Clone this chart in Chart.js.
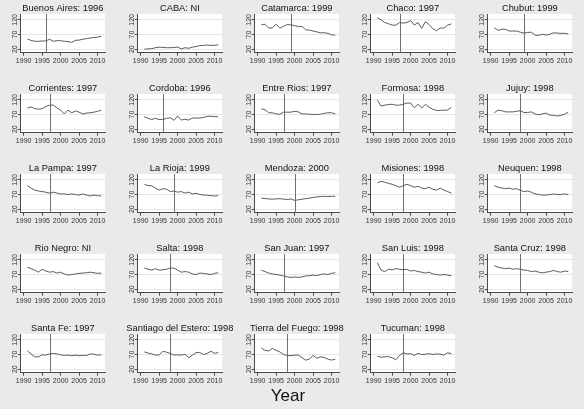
<!DOCTYPE html>
<html lang="en">
<head>
<meta charset="UTF-8">
<title>Provinces: reform year</title>
<script src="https://cdn.jsdelivr.net/npm/chart.js"></script>
<style>
  html, body { margin: 0; padding: 0; background: #eaeaea; }
  body { width: 584px; height: 409px; position: relative; overflow: hidden; font-family: Arial, "Liberation Sans", sans-serif; }
  .panel { position: absolute; }
  .xtitle { position: absolute; left: 0; width: 576px; top: 386px; text-align: center; font-size: 17px; color: #111; }
</style>
</head>
<body>
<div id="grid"></div>
<div class="xtitle">Year</div>
<script>
// years and axis ticks
const years = [1991, 1992, 1993, 1994, 1995, 1996, 1997, 1998, 1999, 2000, 2001,
               2002, 2003, 2004, 2005, 2006, 2007, 2008, 2009, 2010, 2011];
const xTicks = [1990, 1995, 2000, 2005, 2010];
const yTicks = [20, 70, 120];

const provinces = ['Buenos Aires', 'CABA', 'Catamarca', 'Chaco', 'Chubut',
  'Corrientes', 'Cordoba', 'Entre Rios', 'Formosa', 'Jujuy',
  'La Pampa', 'La Rioja', 'Mendoza', 'Misiones', 'Neuquen',
  'Rio Negro', 'Salta', 'San Juan', 'San Luis', 'Santa Cruz',
  'Santa Fe', 'Santiago del Estero', 'Tierra del Fuego', 'Tucuman'];
// null = NI
const reformYears = [1996, null, 1999, 1997, 1999,
  1997, 1996, 1997, 1998, 1998,
  1997, 1999, 2000, 1998, 1998,
  null, 1998, 1997, 1998, 1998,
  1997, 1998, 1998, 1998];

// series, one per province
const buenosAires = [55, 50, 47, 47, 48, 48, 54, 47, 49, 49, 47, 46, 43, 50, 51, 54, 56, 58, 60, 61, 64];
const caba        = [20, 21, 22, 25, 27, 26, 25, 25, 26, 27, 21, 25, 23, 27, 29, 32, 33, 34, 33, 33, 35];
const catamarca   = [104, 105, 92, 93, 105, 92, 98, 104, 103, 100, 97, 98, 86, 85, 82, 79, 76, 76, 74, 69, 68];
const chaco       = [128, 120, 111, 107, 102, 102, 111, 109, 111, 118, 102, 111, 91, 114, 104, 90, 83, 92, 92, 102, 106];
const chubut      = [93, 84, 88, 88, 82, 82, 82, 78, 75, 77, 78, 68, 67, 71, 68, 71, 76, 75, 74, 74, 72];
const corrientes  = [92, 96, 90, 88, 90, 97, 102, 102, 93, 85, 72, 85, 76, 82, 78, 72, 75, 76, 78, 81, 85];
const cordoba     = [62, 57, 53, 57, 53, 53, 57, 59, 50, 65, 51, 54, 51, 58, 58, 58, 60, 64, 64, 63, 62];
const entreRios   = [90, 86, 76, 76, 72, 71, 78, 78, 78, 81, 79, 72, 72, 71, 70, 70, 71, 74, 76, 76, 72];
const formosa     = [119, 99, 102, 104, 105, 102, 102, 105, 109, 109, 93, 105, 92, 105, 95, 88, 84, 84, 85, 85, 95];
const jujuy       = [76, 85, 83, 79, 79, 79, 81, 83, 77, 77, 79, 72, 69, 72, 75, 68, 67, 65, 67, 71, 78];
const laPampa     = [100, 92, 85, 82, 80, 78, 75, 78, 75, 72, 72, 70, 72, 70, 68, 72, 68, 65, 68, 66, 65];
const laRioja     = [105, 100, 100, 92, 85, 90, 88, 80, 82, 78, 80, 75, 78, 72, 74, 70, 68, 68, 66, 65, 66];
const mendoza     = [58, 56, 55, 54, 55, 56, 54, 53, 55, 50, 52, 54, 56, 58, 60, 62, 63, 64, 63, 64, 64];
const misiones    = [110, 115, 112, 108, 105, 100, 95, 100, 105, 100, 95, 98, 92, 90, 95, 88, 85, 92, 85, 80, 75];
const neuquen     = [100, 95, 92, 90, 92, 88, 90, 85, 80, 82, 78, 72, 70, 68, 68, 70, 72, 70, 70, 72, 70];
const rioNegro    = [95, 90, 85, 78, 88, 82, 78, 80, 75, 78, 72, 68, 70, 72, 74, 75, 76, 78, 76, 74, 75];
const salta       = [92, 88, 85, 90, 85, 86, 88, 92, 92, 85, 78, 80, 78, 72, 70, 75, 74, 72, 70, 74, 76];
const sanJuan     = [85, 80, 75, 72, 70, 68, 65, 62, 60, 62, 60, 62, 65, 66, 68, 66, 70, 72, 70, 74, 76];
const sanLuis     = [110, 85, 80, 88, 86, 90, 88, 86, 88, 82, 84, 80, 78, 75, 78, 72, 70, 68, 70, 68, 66];
const santaCruz   = [100, 95, 92, 90, 92, 88, 90, 88, 85, 84, 80, 82, 78, 76, 78, 80, 84, 80, 78, 82, 80];
const santaFe     = [83, 72, 62, 62, 69, 68, 72, 74, 72, 69, 67, 68, 66, 68, 66, 67, 67, 72, 71, 68, 69];
const santiago    = [79, 75, 72, 68, 68, 81, 78, 74, 68, 69, 68, 71, 59, 68, 77, 77, 70, 74, 81, 74, 77];
const tierraFuego = [92, 84, 82, 91, 84, 79, 70, 67, 66, 68, 68, 59, 51, 54, 67, 57, 62, 60, 54, 51, 54];
const tucuman     = [64, 61, 62, 63, 59, 52, 67, 76, 72, 73, 67, 74, 70, 71, 73, 70, 72, 71, 68, 76, 73];

const seriesList = [buenosAires, caba, catamarca, chaco, chubut,
  corrientes, cordoba, entreRios, formosa, jujuy,
  laPampa, laRioja, mendoza, misiones, neuquen,
  rioNegro, salta, sanJuan, sanLuis, santaCruz,
  santaFe, santiago, tierraFuego, tucuman];

const FONT = 'Arial, "Liberation Sans", sans-serif';
const AXIS = '#4a4a4a';

// white plot region, reform line, title and rotated y labels
const panelDecor = {
  id: 'panelDecor',
  beforeDraw(chart) {
    const a = chart.chartArea, ctx = chart.ctx;
    ctx.save();
    ctx.fillStyle = '#ffffff';
    ctx.fillRect(a.left, a.top, a.right - a.left, a.bottom - a.top);
    ctx.restore();
  },
  beforeDatasetsDraw(chart, args, opts) {
    if (opts.reform == null) return;
    const a = chart.chartArea, ctx = chart.ctx;
    const x = Math.round(chart.scales.x.getPixelForValue(opts.reform)) + 0.5;
    ctx.save();
    ctx.strokeStyle = '#707070';
    ctx.lineWidth = 1;
    ctx.beginPath();
    ctx.moveTo(x, a.top);
    ctx.lineTo(x, a.bottom);
    ctx.stroke();
    ctx.restore();
  },
  afterDraw(chart, args, opts) {
    const a = chart.chartArea, ctx = chart.ctx;
    ctx.save();
    ctx.fillStyle = '#111';
    ctx.font = '9.3px ' + FONT;
    ctx.textAlign = 'center';
    ctx.textBaseline = 'middle';
    ctx.fillText(opts.title, (a.left + a.right) / 2, 8.7);
    ctx.fillStyle = '#333';
    ctx.font = '7px ' + FONT;
    yTicks.forEach(v => {
      const y = chart.scales.y.getPixelForValue(v);
      ctx.save();
      ctx.translate(a.left - 5.5, y);
      ctx.rotate(-Math.PI / 2);
      ctx.fillText(String(v), 0, 0);
      ctx.restore();
    });
    ctx.restore();
  }
};

const grid = document.getElementById('grid');
seriesList.forEach((data, i) => {
  const col = i % 5, row = Math.floor(i / 5);
  const canvas = document.createElement('canvas');
  canvas.className = 'panel';
  canvas.width = 117;
  canvas.height = 80;
  canvas.style.left = Math.round(col * 116.8) + 'px';
  canvas.style.top = Math.round(row * 79.9) + 'px';
  grid.appendChild(canvas);

  const reform = reformYears[i];
  new Chart(canvas, {
    type: 'line',
    data: {
      labels: years,
      datasets: [{
        data: years.map((y, k) => ({ x: y, y: data[k] })),
        borderColor: '#5c5c5c',
        borderWidth: 1,
        pointRadius: 0,
        tension: 0
      }]
    },
    plugins: [panelDecor],
    options: {
      responsive: false,
      animation: false,
      events: [],
      layout: { padding: { top: 14, right: 12, left: 0, bottom: 0 } },
      plugins: {
        legend: { display: false },
        tooltip: { enabled: false },
        panelDecor: { title: provinces[i] + ': ' + (reform == null ? 'NI' : reform), reform: reform }
      },
      scales: {
        x: {
          type: 'linear', min: 1989.2, max: 2012,
          afterBuildTicks: s => { s.ticks = xTicks.map(v => ({ value: v })); },
          afterFit: s => { s.height = 27.3; },
          ticks: { font: { size: 7, family: FONT }, color: '#333', padding: 1.5,
                   maxRotation: 0, autoSkip: false, callback: v => String(v) },
          grid: { drawOnChartArea: false, tickLength: 3, tickColor: AXIS },
          border: { color: AXIS, width: 1 }
        },
        y: {
          type: 'linear', min: 8, max: 140,
          afterBuildTicks: s => { s.ticks = yTicks.map(v => ({ value: v })); },
          afterFit: s => { s.width = 20.7; },
          ticks: { display: false },
          grid: { color: '#e6e6e6', tickLength: 3, tickColor: AXIS },
          border: { color: AXIS, width: 1 }
        }
      }
    }
  });
});
</script>
</body>
</html>
